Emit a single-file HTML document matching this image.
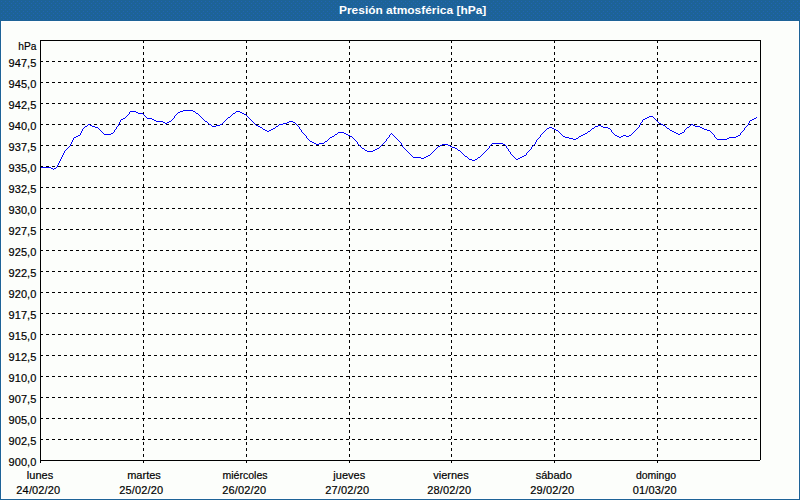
<!DOCTYPE html>
<html><head><meta charset="utf-8"><title>Presión atmosférica [hPa]</title>
<style>
html,body{margin:0;padding:0;}
body{width:800px;height:500px;overflow:hidden;background:#1d6397;position:relative;font-family:"Liberation Sans",sans-serif;font-size:11px;color:#000;-webkit-text-stroke:0.18px #000;}
#frame{position:absolute;left:0;top:20px;width:800px;height:480px;background:#1d6397;}
#inner{position:absolute;left:1px;top:21px;width:798px;height:478px;background:#fff;}
#panel{position:absolute;left:2px;top:22px;width:796px;height:476px;background:#fcfefb;}
#title{position:absolute;left:339px;top:3px;height:14px;line-height:14px;color:#fff;font-weight:bold;font-size:11px;-webkit-text-stroke:0;white-space:nowrap;transform-origin:0 0;transform:scaleX(1.085);}
.yl{position:absolute;left:0;width:36.5px;letter-spacing:0.1px;text-align:right;height:12px;line-height:12px;white-space:nowrap;}
.dt{letter-spacing:0.15px;}
.xl{position:absolute;width:100px;text-align:center;height:12px;line-height:12px;white-space:nowrap;}
</style></head><body>
<svg width="800" height="20" style="position:absolute;left:0;top:0" shape-rendering="crispEdges"><defs><pattern id="dz" width="4" height="4" patternUnits="userSpaceOnUse"><rect width="4" height="4" fill="#1d6397"/><path d="M1,1h1v1h-1zM3,3h1v1h-1z" fill="#2064b4"/></pattern></defs><rect width="800" height="20" fill="url(#dz)"/></svg>
<div id="frame"></div><div id="inner"></div><div id="panel"></div>
<div id="title">Presión atmosférica [hPa]</div>
<svg width="800" height="500" viewBox="0 0 800 500" style="position:absolute;left:0;top:0" shape-rendering="crispEdges">
<line x1="40" y1="439.5" x2="760" y2="439.5" stroke="#000" stroke-width="1" stroke-dasharray="3 3" stroke-dashoffset="0"/>
<line x1="40" y1="418.5" x2="760" y2="418.5" stroke="#000" stroke-width="1" stroke-dasharray="3 3" stroke-dashoffset="0"/>
<line x1="40" y1="397.5" x2="760" y2="397.5" stroke="#000" stroke-width="1" stroke-dasharray="3 3" stroke-dashoffset="0"/>
<line x1="40" y1="376.5" x2="760" y2="376.5" stroke="#000" stroke-width="1" stroke-dasharray="3 3" stroke-dashoffset="0"/>
<line x1="40" y1="355.5" x2="760" y2="355.5" stroke="#000" stroke-width="1" stroke-dasharray="3 3" stroke-dashoffset="0"/>
<line x1="40" y1="334.5" x2="760" y2="334.5" stroke="#000" stroke-width="1" stroke-dasharray="3 3" stroke-dashoffset="0"/>
<line x1="40" y1="313.5" x2="760" y2="313.5" stroke="#000" stroke-width="1" stroke-dasharray="3 3" stroke-dashoffset="0"/>
<line x1="40" y1="292.5" x2="760" y2="292.5" stroke="#000" stroke-width="1" stroke-dasharray="3 3" stroke-dashoffset="0"/>
<line x1="40" y1="271.5" x2="760" y2="271.5" stroke="#000" stroke-width="1" stroke-dasharray="3 3" stroke-dashoffset="0"/>
<line x1="40" y1="250.5" x2="760" y2="250.5" stroke="#000" stroke-width="1" stroke-dasharray="3 3" stroke-dashoffset="0"/>
<line x1="40" y1="229.5" x2="760" y2="229.5" stroke="#000" stroke-width="1" stroke-dasharray="3 3" stroke-dashoffset="0"/>
<line x1="40" y1="208.5" x2="760" y2="208.5" stroke="#000" stroke-width="1" stroke-dasharray="3 3" stroke-dashoffset="0"/>
<line x1="40" y1="187.5" x2="760" y2="187.5" stroke="#000" stroke-width="1" stroke-dasharray="3 3" stroke-dashoffset="0"/>
<line x1="40" y1="166.5" x2="760" y2="166.5" stroke="#000" stroke-width="1" stroke-dasharray="3 3" stroke-dashoffset="0"/>
<line x1="40" y1="145.5" x2="760" y2="145.5" stroke="#000" stroke-width="1" stroke-dasharray="3 3" stroke-dashoffset="0"/>
<line x1="40" y1="124.5" x2="760" y2="124.5" stroke="#000" stroke-width="1" stroke-dasharray="3 3" stroke-dashoffset="0"/>
<line x1="40" y1="103.5" x2="760" y2="103.5" stroke="#000" stroke-width="1" stroke-dasharray="3 3" stroke-dashoffset="0"/>
<line x1="40" y1="82.5" x2="760" y2="82.5" stroke="#000" stroke-width="1" stroke-dasharray="3 3" stroke-dashoffset="0"/>
<line x1="40" y1="61.5" x2="760" y2="61.5" stroke="#000" stroke-width="1" stroke-dasharray="3 3" stroke-dashoffset="0"/>
<line x1="143.5" y1="40" x2="143.5" y2="460" stroke="#000" stroke-width="1" stroke-dasharray="3 3" stroke-dashoffset="0"/>
<line x1="143.5" y1="460" x2="143.5" y2="463" stroke="#000" stroke-width="1"/>
<line x1="246.5" y1="40" x2="246.5" y2="460" stroke="#000" stroke-width="1" stroke-dasharray="3 3" stroke-dashoffset="0"/>
<line x1="246.5" y1="460" x2="246.5" y2="463" stroke="#000" stroke-width="1"/>
<line x1="349.5" y1="40" x2="349.5" y2="460" stroke="#000" stroke-width="1" stroke-dasharray="3 3" stroke-dashoffset="0"/>
<line x1="349.5" y1="460" x2="349.5" y2="463" stroke="#000" stroke-width="1"/>
<line x1="451.5" y1="40" x2="451.5" y2="460" stroke="#000" stroke-width="1" stroke-dasharray="3 3" stroke-dashoffset="0"/>
<line x1="451.5" y1="460" x2="451.5" y2="463" stroke="#000" stroke-width="1"/>
<line x1="554.5" y1="40" x2="554.5" y2="460" stroke="#000" stroke-width="1" stroke-dasharray="3 3" stroke-dashoffset="0"/>
<line x1="554.5" y1="460" x2="554.5" y2="463" stroke="#000" stroke-width="1"/>
<line x1="657.5" y1="40" x2="657.5" y2="460" stroke="#000" stroke-width="1" stroke-dasharray="3 3" stroke-dashoffset="0"/>
<line x1="657.5" y1="460" x2="657.5" y2="463" stroke="#000" stroke-width="1"/>
<path d="M40,40.5H761 M40.5,40V463 M760.5,40V460 M40,460.5H760" fill="none" stroke="#000" stroke-width="1"/>
<path d="M183,110h10v1h-10zM130,111h6v1h-6zM180,111h3v1h-3zM193,111h2v1h-2zM236,111h4v1h-4zM129,112h1v1h-1zM136,112h2v1h-2zM178,112h2v1h-2zM195,112h1v1h-1zM235,112h1v1h-1zM240,112h2v1h-2zM129,113h1v1h-1zM138,113h5v1h-5zM177,113h1v1h-1zM196,113h2v1h-2zM233,113h2v1h-2zM242,113h2v1h-2zM128,114h1v1h-1zM143,114h1v1h-1zM176,114h1v1h-1zM198,114h1v1h-1zM232,114h1v1h-1zM244,114h2v1h-2zM127,115h1v1h-1zM144,115h1v1h-1zM175,115h1v1h-1zM199,115h1v1h-1zM231,115h1v1h-1zM246,115h1v1h-1zM126,116h1v1h-1zM145,116h1v1h-1zM174,116h1v1h-1zM200,116h1v1h-1zM230,116h1v1h-1zM247,116h1v1h-1zM649,116h4v1h-4zM125,117h1v1h-1zM146,117h1v1h-1zM174,117h1v1h-1zM201,117h1v1h-1zM228,117h2v1h-2zM248,117h1v1h-1zM647,117h2v1h-2zM653,117h1v1h-1zM756,117h1v1h-1zM123,118h2v1h-2zM147,118h5v1h-5zM173,118h1v1h-1zM202,118h1v1h-1zM227,118h1v1h-1zM249,118h1v1h-1zM645,118h2v1h-2zM654,118h1v1h-1zM754,118h2v1h-2zM121,119h2v1h-2zM152,119h2v1h-2zM172,119h1v1h-1zM203,119h1v1h-1zM226,119h1v1h-1zM250,119h1v1h-1zM643,119h2v1h-2zM655,119h1v1h-1zM752,119h2v1h-2zM120,120h1v1h-1zM154,120h2v1h-2zM171,120h1v1h-1zM204,120h1v1h-1zM225,120h1v1h-1zM251,120h1v1h-1zM642,120h1v1h-1zM656,120h1v1h-1zM750,120h2v1h-2zM120,121h1v1h-1zM156,121h7v1h-7zM169,121h2v1h-2zM205,121h2v1h-2zM224,121h1v1h-1zM252,121h1v1h-1zM289,121h4v1h-4zM642,121h1v1h-1zM657,121h1v1h-1zM749,121h1v1h-1zM119,122h1v1h-1zM163,122h2v1h-2zM167,122h2v1h-2zM207,122h1v1h-1zM223,122h1v1h-1zM253,122h1v1h-1zM287,122h2v1h-2zM293,122h2v1h-2zM641,122h1v1h-1zM658,122h1v1h-1zM749,122h1v1h-1zM119,123h1v1h-1zM165,123h2v1h-2zM208,123h1v1h-1zM222,123h1v1h-1zM254,123h1v1h-1zM283,123h4v1h-4zM295,123h1v1h-1zM640,123h1v1h-1zM659,123h2v1h-2zM748,123h1v1h-1zM88,124h2v1h-2zM118,124h1v1h-1zM209,124h2v1h-2zM220,124h2v1h-2zM255,124h1v1h-1zM279,124h4v1h-4zM296,124h1v1h-1zM640,124h1v1h-1zM661,124h2v1h-2zM691,124h2v1h-2zM748,124h1v1h-1zM87,125h1v1h-1zM90,125h2v1h-2zM118,125h1v1h-1zM211,125h1v1h-1zM216,125h4v1h-4zM256,125h2v1h-2zM278,125h1v1h-1zM297,125h1v1h-1zM598,125h3v1h-3zM639,125h1v1h-1zM663,125h2v1h-2zM690,125h1v1h-1zM693,125h2v1h-2zM747,125h1v1h-1zM85,126h2v1h-2zM92,126h3v1h-3zM117,126h1v1h-1zM212,126h4v1h-4zM258,126h2v1h-2zM276,126h2v1h-2zM298,126h1v1h-1zM595,126h3v1h-3zM601,126h2v1h-2zM639,126h1v1h-1zM665,126h1v1h-1zM689,126h1v1h-1zM695,126h5v1h-5zM746,126h1v1h-1zM84,127h1v1h-1zM95,127h3v1h-3zM116,127h1v1h-1zM260,127h2v1h-2zM275,127h1v1h-1zM299,127h1v1h-1zM549,127h3v1h-3zM594,127h1v1h-1zM603,127h5v1h-5zM638,127h1v1h-1zM666,127h1v1h-1zM687,127h2v1h-2zM700,127h2v1h-2zM745,127h1v1h-1zM83,128h1v1h-1zM98,128h1v1h-1zM116,128h1v1h-1zM262,128h1v1h-1zM273,128h2v1h-2zM299,128h1v1h-1zM547,128h2v1h-2zM552,128h2v1h-2zM592,128h2v1h-2zM608,128h2v1h-2zM637,128h1v1h-1zM667,128h2v1h-2zM686,128h1v1h-1zM702,128h2v1h-2zM744,128h1v1h-1zM82,129h1v1h-1zM99,129h1v1h-1zM115,129h1v1h-1zM263,129h2v1h-2zM271,129h2v1h-2zM300,129h1v1h-1zM546,129h1v1h-1zM554,129h2v1h-2zM591,129h1v1h-1zM610,129h1v1h-1zM636,129h1v1h-1zM669,129h1v1h-1zM685,129h1v1h-1zM704,129h3v1h-3zM744,129h1v1h-1zM82,130h1v1h-1zM100,130h1v1h-1zM114,130h1v1h-1zM265,130h2v1h-2zM269,130h2v1h-2zM301,130h1v1h-1zM545,130h1v1h-1zM556,130h2v1h-2zM590,130h1v1h-1zM611,130h1v1h-1zM635,130h1v1h-1zM670,130h2v1h-2zM684,130h1v1h-1zM707,130h3v1h-3zM743,130h1v1h-1zM81,131h1v1h-1zM101,131h1v1h-1zM114,131h1v1h-1zM267,131h2v1h-2zM301,131h1v1h-1zM544,131h1v1h-1zM558,131h1v1h-1zM588,131h2v1h-2zM611,131h1v1h-1zM634,131h1v1h-1zM672,131h2v1h-2zM684,131h1v1h-1zM710,131h1v1h-1zM742,131h1v1h-1zM81,132h1v1h-1zM102,132h1v1h-1zM113,132h1v1h-1zM302,132h1v1h-1zM338,132h6v1h-6zM543,132h1v1h-1zM559,132h1v1h-1zM587,132h1v1h-1zM612,132h1v1h-1zM633,132h1v1h-1zM674,132h2v1h-2zM682,132h2v1h-2zM711,132h1v1h-1zM741,132h1v1h-1zM80,133h1v1h-1zM103,133h1v1h-1zM111,133h2v1h-2zM303,133h1v1h-1zM337,133h1v1h-1zM344,133h2v1h-2zM391,133h1v1h-1zM542,133h1v1h-1zM560,133h1v1h-1zM585,133h2v1h-2zM613,133h1v1h-1zM632,133h1v1h-1zM676,133h2v1h-2zM680,133h2v1h-2zM712,133h1v1h-1zM740,133h1v1h-1zM80,134h1v1h-1zM104,134h7v1h-7zM304,134h1v1h-1zM335,134h2v1h-2zM346,134h2v1h-2zM390,134h1v1h-1zM392,134h1v1h-1zM541,134h1v1h-1zM561,134h1v1h-1zM583,134h2v1h-2zM614,134h1v1h-1zM631,134h1v1h-1zM678,134h2v1h-2zM713,134h1v1h-1zM740,134h1v1h-1zM78,135h2v1h-2zM305,135h1v1h-1zM334,135h1v1h-1zM348,135h2v1h-2zM389,135h1v1h-1zM393,135h1v1h-1zM540,135h1v1h-1zM562,135h1v1h-1zM581,135h2v1h-2zM615,135h2v1h-2zM623,135h3v1h-3zM629,135h2v1h-2zM714,135h1v1h-1zM738,135h2v1h-2zM76,136h2v1h-2zM306,136h1v1h-1zM332,136h2v1h-2zM350,136h2v1h-2zM389,136h1v1h-1zM394,136h1v1h-1zM540,136h1v1h-1zM563,136h2v1h-2zM579,136h2v1h-2zM617,136h2v1h-2zM621,136h2v1h-2zM626,136h3v1h-3zM714,136h1v1h-1zM736,136h2v1h-2zM74,137h2v1h-2zM306,137h1v1h-1zM330,137h2v1h-2zM352,137h1v1h-1zM388,137h1v1h-1zM395,137h1v1h-1zM539,137h1v1h-1zM565,137h4v1h-4zM578,137h1v1h-1zM619,137h2v1h-2zM715,137h1v1h-1zM729,137h7v1h-7zM73,138h1v1h-1zM307,138h1v1h-1zM329,138h1v1h-1zM353,138h1v1h-1zM387,138h1v1h-1zM396,138h1v1h-1zM538,138h1v1h-1zM569,138h4v1h-4zM576,138h2v1h-2zM716,138h1v1h-1zM727,138h2v1h-2zM73,139h1v1h-1zM308,139h1v1h-1zM328,139h1v1h-1zM354,139h1v1h-1zM386,139h1v1h-1zM397,139h1v1h-1zM537,139h1v1h-1zM573,139h3v1h-3zM717,139h10v1h-10zM72,140h1v1h-1zM309,140h1v1h-1zM327,140h1v1h-1zM355,140h1v1h-1zM386,140h1v1h-1zM398,140h1v1h-1zM536,140h1v1h-1zM72,141h1v1h-1zM310,141h2v1h-2zM325,141h2v1h-2zM356,141h1v1h-1zM385,141h1v1h-1zM399,141h1v1h-1zM536,141h1v1h-1zM71,142h1v1h-1zM312,142h2v1h-2zM324,142h1v1h-1zM357,142h1v1h-1zM384,142h1v1h-1zM400,142h1v1h-1zM535,142h1v1h-1zM71,143h1v1h-1zM314,143h2v1h-2zM319,143h5v1h-5zM357,143h1v1h-1zM383,143h1v1h-1zM401,143h1v1h-1zM492,143h11v1h-11zM535,143h1v1h-1zM70,144h1v1h-1zM316,144h3v1h-3zM358,144h1v1h-1zM382,144h1v1h-1zM401,144h1v1h-1zM442,144h6v1h-6zM491,144h1v1h-1zM503,144h2v1h-2zM534,144h1v1h-1zM70,145h1v1h-1zM359,145h1v1h-1zM381,145h1v1h-1zM402,145h1v1h-1zM440,145h2v1h-2zM448,145h2v1h-2zM490,145h1v1h-1zM505,145h1v1h-1zM533,145h1v1h-1zM69,146h1v1h-1zM360,146h1v1h-1zM380,146h1v1h-1zM402,146h1v1h-1zM438,146h2v1h-2zM450,146h2v1h-2zM489,146h1v1h-1zM506,146h1v1h-1zM532,146h1v1h-1zM68,147h1v1h-1zM361,147h1v1h-1zM379,147h1v1h-1zM403,147h1v1h-1zM437,147h1v1h-1zM452,147h3v1h-3zM489,147h1v1h-1zM506,147h1v1h-1zM531,147h1v1h-1zM67,148h1v1h-1zM362,148h2v1h-2zM377,148h2v1h-2zM404,148h1v1h-1zM436,148h1v1h-1zM455,148h2v1h-2zM488,148h1v1h-1zM507,148h1v1h-1zM531,148h1v1h-1zM66,149h1v1h-1zM364,149h1v1h-1zM375,149h2v1h-2zM405,149h1v1h-1zM435,149h1v1h-1zM457,149h1v1h-1zM487,149h1v1h-1zM508,149h1v1h-1zM530,149h1v1h-1zM65,150h1v1h-1zM365,150h2v1h-2zM373,150h2v1h-2zM406,150h1v1h-1zM434,150h1v1h-1zM458,150h2v1h-2zM486,150h1v1h-1zM508,150h1v1h-1zM529,150h1v1h-1zM64,151h1v1h-1zM367,151h6v1h-6zM407,151h1v1h-1zM433,151h1v1h-1zM460,151h1v1h-1zM485,151h1v1h-1zM509,151h1v1h-1zM528,151h1v1h-1zM64,152h1v1h-1zM408,152h1v1h-1zM432,152h1v1h-1zM461,152h1v1h-1zM484,152h1v1h-1zM510,152h1v1h-1zM527,152h1v1h-1zM63,153h1v1h-1zM409,153h1v1h-1zM431,153h1v1h-1zM462,153h1v1h-1zM483,153h1v1h-1zM510,153h1v1h-1zM526,153h1v1h-1zM63,154h1v1h-1zM410,154h1v1h-1zM430,154h1v1h-1zM463,154h1v1h-1zM482,154h1v1h-1zM511,154h1v1h-1zM526,154h1v1h-1zM62,155h1v1h-1zM411,155h1v1h-1zM428,155h2v1h-2zM464,155h1v1h-1zM481,155h1v1h-1zM512,155h1v1h-1zM524,155h2v1h-2zM62,156h1v1h-1zM412,156h1v1h-1zM426,156h2v1h-2zM465,156h2v1h-2zM480,156h1v1h-1zM513,156h1v1h-1zM522,156h2v1h-2zM61,157h1v1h-1zM413,157h8v1h-8zM424,157h2v1h-2zM467,157h1v1h-1zM478,157h2v1h-2zM514,157h1v1h-1zM520,157h2v1h-2zM61,158h1v1h-1zM421,158h3v1h-3zM468,158h1v1h-1zM477,158h1v1h-1zM515,158h1v1h-1zM518,158h2v1h-2zM60,159h1v1h-1zM469,159h3v1h-3zM475,159h2v1h-2zM516,159h2v1h-2zM60,160h1v1h-1zM472,160h3v1h-3zM59,161h1v1h-1zM59,162h1v1h-1zM58,163h1v1h-1zM58,164h1v1h-1zM57,165h1v1h-1zM57,166h1v1h-1zM41,167h10v1h-10zM56,167h1v1h-1zM51,168h2v1h-2zM54,168h2v1h-2zM53,169h1v1h-1z" fill="#0000ff" stroke="none"/>
</svg>
<div class="yl" style="top:40px;transform:scaleX(0.93);transform-origin:100% 50%;letter-spacing:0">hPa</div><div class="yl" style="top:57px">947,5</div><div class="yl" style="top:78px">945,0</div><div class="yl" style="top:99px">942,5</div><div class="yl" style="top:120px">940,0</div><div class="yl" style="top:141px">937,5</div><div class="yl" style="top:162px">935,0</div><div class="yl" style="top:183px">932,5</div><div class="yl" style="top:204px">930,0</div><div class="yl" style="top:225px">927,5</div><div class="yl" style="top:246px">925,0</div><div class="yl" style="top:267px">922,5</div><div class="yl" style="top:288px">920,0</div><div class="yl" style="top:309px">917,5</div><div class="yl" style="top:330px">915,0</div><div class="yl" style="top:351px">912,5</div><div class="yl" style="top:372px">910,0</div><div class="yl" style="top:393px">907,5</div><div class="yl" style="top:414px">905,0</div><div class="yl" style="top:435px">902,5</div><div class="yl" style="top:456px">900,0</div>
<div class="xl" style="left:-10px;top:469px">lunes</div><div class="xl dt" style="left:-11.65px;top:484px">24/02/20</div><div class="xl" style="left:94px;top:469px">martes</div><div class="xl dt" style="left:91.35px;top:484px">25/02/20</div><div class="xl" style="left:195px;top:469px;transform:scaleX(0.957)">miércoles</div><div class="xl dt" style="left:194.2px;top:484px">26/02/20</div><div class="xl" style="left:299.25px;top:469px">jueves</div><div class="xl dt" style="left:297.35px;top:484px">27/02/20</div><div class="xl" style="left:401px;top:469px">viernes</div><div class="xl dt" style="left:399.35px;top:484px">28/02/20</div><div class="xl" style="left:503.75px;top:469px">sábado</div><div class="xl dt" style="left:502.35px;top:484px">29/02/20</div><div class="xl" style="left:606.25px;top:469px;transform:scaleX(0.95)">domingo</div><div class="xl dt" style="left:604.85px;top:484px">01/03/20</div>
</body></html>
